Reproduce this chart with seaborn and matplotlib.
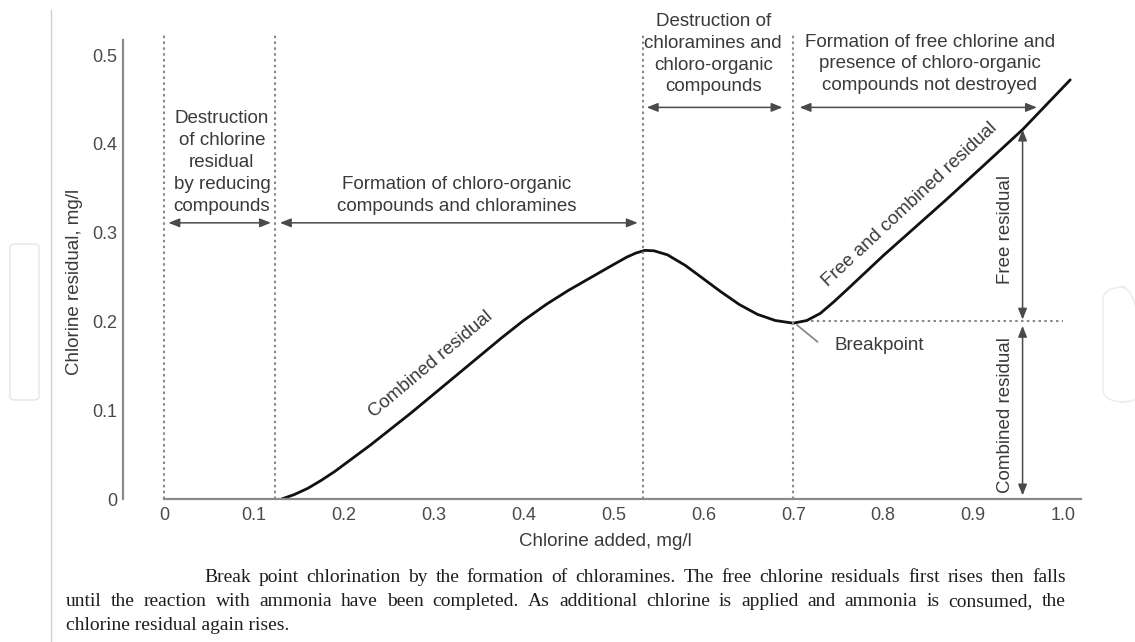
import matplotlib
matplotlib.use("Agg")
import matplotlib.pyplot as plt
from matplotlib.lines import Line2D
from matplotlib.patches import FancyBboxPatch
import numpy as np
import pandas as pd
import seaborn as sns

# ---------------- data ----------------
chlorine_added = [0.131, 0.145, 0.160, 0.175, 0.190, 0.210, 0.230, 0.250, 0.275,
                  0.300, 0.325, 0.350, 0.375, 0.400, 0.425, 0.450, 0.475, 0.500,
                  0.515, 0.525, 0.535, 0.545, 0.560, 0.580, 0.600, 0.620, 0.640,
                  0.660, 0.680, 0.700, 0.715, 0.730, 0.745, 0.760, 0.780, 0.800,
                  0.830, 0.870, 0.910, 0.955, 1.008]
chlorine_residual = [0.000, 0.005, 0.012, 0.021, 0.031, 0.046, 0.061, 0.077, 0.097,
                     0.118, 0.139, 0.160, 0.181, 0.201, 0.219, 0.235, 0.2495, 0.264,
                     0.2725, 0.277, 0.280, 0.2795, 0.275, 0.263, 0.248, 0.233, 0.219,
                     0.208, 0.201, 0.198, 0.201, 0.209, 0.222, 0.236, 0.255, 0.274,
                     0.301, 0.337, 0.374, 0.416, 0.472]

zone_bounds = [0.0, 0.123, 0.533, 0.700]
x_ticks = [0.0, 0.1, 0.2, 0.3, 0.4, 0.5, 0.6, 0.7, 0.8, 0.9, 1.0]
x_tick_labels = ["0", "0.1", "0.2", "0.3", "0.4", "0.5", "0.6", "0.7", "0.8", "0.9", "1.0"]
y_ticks = [0.0, 0.1, 0.2, 0.3, 0.4, 0.5]
y_tick_labels = ["0", "0.1", "0.2", "0.3", "0.4", "0.5"]

zone_texts = ["Destruction\nof chlorine\nresidual\nby reducing\ncompounds",
              "Formation of chloro-organic\ncompounds and chloramines",
              "Destruction of\nchloramines and\nchloro-organic\ncompounds",
              "Formation of free chlorine and\npresence of chloro-organic\ncompounds not destroyed"]
breakpoint_x, breakpoint_y = 0.700, 0.198
measure_x = 0.955
measure_top = 0.416

caption_lines = [
    "Break point chlorination by the formation of chloramines. The free chlorine residuals first rises then falls",
    "until the reaction with ammonia have been completed. As additional chlorine is applied and ammonia is consumed, the",
    "chlorine residual again rises.",
]

# ---------------- style ----------------
sns.set_theme(style="white")
plt.rcParams["font.family"] = ["Liberation Sans", "DejaVu Sans"]

W, H = 1135, 642
fig = plt.figure(figsize=(W / 100, H / 100), dpi=100)
fig.patch.set_facecolor("white")
ax = fig.add_axes([123 / W, (H - 499) / H, (1090 - 123) / W, 488.4 / H])
ax.set_facecolor("white")

TXT = "#3a3a3a"
GRAY = "#8a8a8a"
FS = 13.5

df = pd.DataFrame({"added": chlorine_added, "residual": chlorine_residual})
sns.lineplot(data=df, x="added", y="residual", ax=ax, color="#111111",
             linewidth=2.0, estimator=None, sort=False)

ax.set_xlim(-0.0455, 1.03)
ax.set_ylim(0, 0.55)

for s in ["top", "right"]:
    ax.spines[s].set_visible(False)
for s in ["left", "bottom"]:
    ax.spines[s].set_color(GRAY)
    ax.spines[s].set_linewidth(1.6)
ax.spines["left"].set_bounds(0, 0.517)
ax.spines["bottom"].set_bounds(0, 1.02)

ax.set_xticks(x_ticks)
ax.set_xticklabels(x_tick_labels)
ax.set_yticks(y_ticks)
ax.set_yticklabels(y_tick_labels)
ax.tick_params(axis="both", direction="in", length=10, width=1.4, color=GRAY,
               labelsize=13, labelcolor="#4a4a4a")
ax.tick_params(axis="x", pad=6)
ax.tick_params(axis="y", pad=4)

ax.set_xlabel("Chlorine added, mg/l", fontsize=FS, color=TXT)
ax.set_ylabel("Chlorine residual, mg/l", fontsize=FS, color=TXT)
ax.xaxis.set_label_coords((605 - 123) / 967, -(533 - 499) / 488.4)
ax.yaxis.set_label_coords((83 - 123) / 967, (499 - 282) / 488.4)

# dotted zone boundaries
for xb in zone_bounds:
    ax.plot([xb, xb], [0, 0.525], ls=(0, (1.2, 1.6)), color=GRAY, lw=1.5, clip_on=False)
# breakpoint level
ax.plot([0.72, 1.0], [breakpoint_y + 0.002, breakpoint_y + 0.002], ls=(0, (1.2, 1.6)),
        color=GRAY, lw=1.5, clip_on=False)


def darrow(x0, y0, x1, y1):
    ax.annotate("", xy=(x1, y1), xytext=(x0, y0), annotation_clip=False,
                arrowprops=dict(arrowstyle="<|-|>,head_length=0.55,head_width=0.22",
                                color="#4a4a4a", lw=1.1, shrinkA=0, shrinkB=0,
                                mutation_scale=12))


# zone arrows
darrow(zone_bounds[0] + 0.005, 0.311, zone_bounds[1] - 0.004, 0.311)
darrow(zone_bounds[1] + 0.006, 0.311, zone_bounds[2] - 0.006, 0.311)
darrow(zone_bounds[2] + 0.004, 0.441, zone_bounds[3] - 0.012, 0.441)
darrow(zone_bounds[3] + 0.007, 0.441, 0.971, 0.441)

tk = dict(fontsize=FS, color=TXT, ha="center", va="center", linespacing=1.37, clip_on=False)
ax.text(0.0645, 0.379, zone_texts[0], **tk)
ax.text(0.326, 0.342, zone_texts[1], **tk)
ax.text(0.611, 0.501, zone_texts[2], **tk)
ax.text(0.852, 0.490, zone_texts[3], **tk)

# curve labels
ax.text(0.297, 0.152, "Combined residual", fontsize=FS, color=TXT, rotation=40,
        rotation_mode="anchor", ha="center", va="center")
ax.text(0.830, 0.331, "Free and combined residual", fontsize=FS, color=TXT, rotation=43,
        rotation_mode="anchor", ha="center", va="center")

# breakpoint
ax.plot([breakpoint_x + 0.004, 0.727], [breakpoint_y - 0.002, 0.177], color=GRAY, lw=1.3)
ax.text(0.746, 0.173, "Breakpoint", fontsize=FS, color=TXT, ha="left", va="center")

# residual measures
darrow(measure_x, breakpoint_y + 0.004, measure_x, measure_top)
darrow(measure_x, 0.004, measure_x, breakpoint_y - 0.003)
ax.text(0.936, 0.303, "Free residual", fontsize=FS, color=TXT, rotation=90,
        ha="center", va="center")
ax.text(0.936, 0.095, "Combined residual", fontsize=FS, color=TXT, rotation=90,
        ha="center", va="center")

# page decorations (border / faint watermark frames)
fig.add_artist(Line2D([51 / W, 51 / W], [0, 1 - 10 / H], transform=fig.transFigure,
                      color="#cfcfcf", lw=1.0))
fig.add_artist(FancyBboxPatch((10 / W, 1 - 400 / H), 29 / W, 156 / H,
                              boxstyle="round,pad=0,rounding_size=0.005",
                              transform=fig.transFigure, fill=False,
                              edgecolor="#e6e6e6", lw=1.0))
fig.add_artist(FancyBboxPatch((1103 / W, 1 - 402 / H), 40 / W, 115 / H,
                              boxstyle="round,pad=0,rounding_size=0.02",
                              transform=fig.transFigure, fill=False,
                              edgecolor="#ececec", lw=1.0))

# caption (justified lines, serif)
cap_fs = 14
cap_font = ["Liberation Serif", "DejaVu Serif"]
renderer = fig.canvas.get_renderer()


def caption_line(text, x0, x1, yc, justify=True):
    words = text.split(" ")
    if not justify:
        fig.text(x0 / W, 1 - yc / H, text, fontsize=cap_fs, family=cap_font,
                 color="#1e1e1e", va="center", ha="left")
        return
    objs = [fig.text(0, 1 - yc / H, w, fontsize=cap_fs, family=cap_font,
                     color="#1e1e1e", va="center", ha="left") for w in words]
    widths = [o.get_window_extent(renderer).width for o in objs]
    gap = ((x1 - x0) - sum(widths)) / (len(words) - 1)
    x = x0
    for o, w in zip(objs, widths):
        o.set_x(x / W)
        x += w + gap


caption_line(caption_lines[0], 204, 1066, 578)
caption_line(caption_lines[1], 66, 1066, 602)
caption_line(caption_lines[2], 66, 1066, 625, justify=False)

fig.savefig("out.png", dpi=100, facecolor="white")
